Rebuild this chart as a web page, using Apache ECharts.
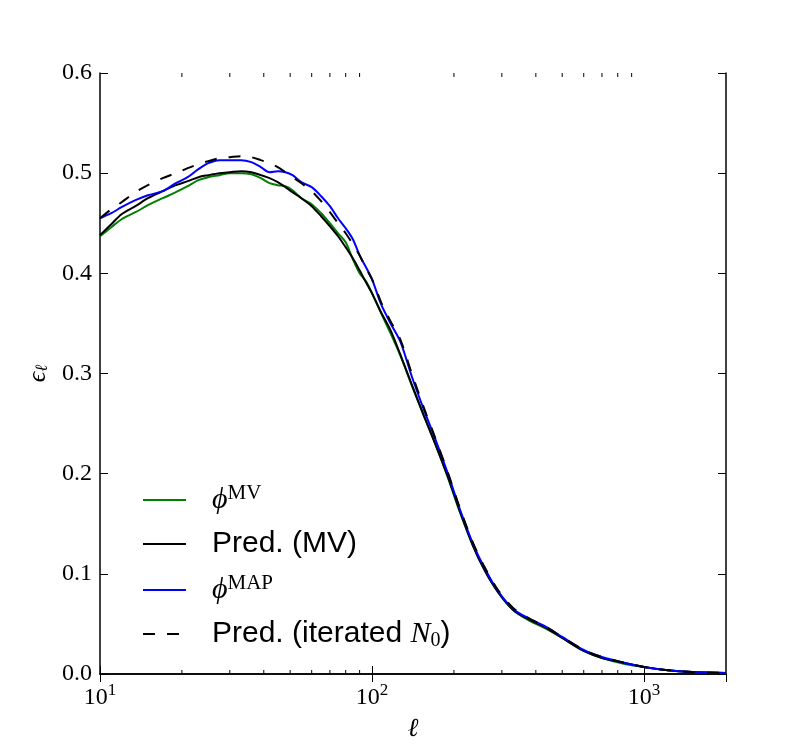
<!DOCTYPE html>
<html><head><meta charset="utf-8">
<script src="https://cdn.jsdelivr.net/npm/echarts@6/dist/echarts.min.js"></script>
<style>html,body{margin:0;padding:0;background:#fff}#c{width:807px;height:750px}</style>
</head><body><div id="c"></div>
<script>
// multipole ell
const ell = [10, 11, 12, 13.5, 15, 17, 19, 21, 23, 25, 27.5, 30, 33, 36, 39, 42, 45, 48, 51, 55, 60, 65, 70, 75, 80, 85, 90, 95, 100, 108, 117, 127, 140, 155, 170, 190, 210, 235, 260, 290, 330, 380, 430, 500, 600, 700, 850, 1000, 1200, 1500, 2000];
// phi^MV (green)
const phiMV = [0.437, 0.446, 0.454, 0.461, 0.468, 0.475, 0.481, 0.487, 0.493, 0.496, 0.498, 0.500, 0.500, 0.499, 0.495, 0.490, 0.488, 0.487, 0.483, 0.475, 0.469, 0.460, 0.450, 0.440, 0.431, 0.414, 0.400, 0.392, 0.380, 0.360, 0.340, 0.318, 0.288, 0.258, 0.231, 0.196, 0.162, 0.128, 0.103, 0.082, 0.064, 0.053, 0.046, 0.036, 0.023, 0.016, 0.010, 0.007, 0.004, 0.002, 0.001];
// Pred. (MV) (black solid)
const predMV = [0.438, 0.449, 0.459, 0.467, 0.475, 0.482, 0.488, 0.492, 0.496, 0.498, 0.500, 0.501, 0.502, 0.501, 0.498, 0.495, 0.491, 0.486, 0.481, 0.475, 0.467, 0.457, 0.447, 0.437, 0.426, 0.415, 0.403, 0.391, 0.380, 0.361, 0.343, 0.319, 0.289, 0.258, 0.231, 0.197, 0.163, 0.128, 0.103, 0.082, 0.064, 0.054, 0.047, 0.036, 0.023, 0.016, 0.011, 0.007, 0.004, 0.002, 0.001];
// phi^MAP (blue)
const phiMAP = [0.455, 0.460, 0.466, 0.473, 0.478, 0.482, 0.490, 0.496, 0.504, 0.510, 0.513, 0.513, 0.513, 0.511, 0.506, 0.501, 0.502, 0.501, 0.498, 0.491, 0.486, 0.477, 0.467, 0.455, 0.445, 0.434, 0.418, 0.406, 0.394, 0.369, 0.350, 0.332, 0.297, 0.264, 0.236, 0.200, 0.165, 0.130, 0.105, 0.083, 0.065, 0.055, 0.048, 0.037, 0.024, 0.017, 0.011, 0.007, 0.004, 0.002, 0.001];
// Pred. (iterated N0) (black dashed)
const predIter = [0.455, 0.464, 0.471, 0.481, 0.488, 0.495, 0.500, 0.505, 0.509, 0.512, 0.515, 0.516, 0.517, 0.516, 0.513, 0.510, 0.506, 0.501, 0.496, 0.490, 0.482, 0.472, 0.461, 0.450, 0.440, 0.429, 0.418, 0.405, 0.394, 0.371, 0.352, 0.334, 0.300, 0.266, 0.237, 0.201, 0.166, 0.131, 0.106, 0.084, 0.066, 0.055, 0.048, 0.037, 0.024, 0.017, 0.011, 0.007, 0.004, 0.002, 0.001];
const xMinorTicks = [20, 30, 40, 50, 60, 70, 80, 90, 200, 300, 400, 500, 600, 700, 800, 900];
const yTickLabels = ['0.0', '0.1', '0.2', '0.3', '0.4', '0.5', '0.6'];

const SERIF = '"Liberation Serif", "DejaVu Serif", serif';
const SANS = '"Liberation Sans", Arial, sans-serif';
const pair = arr => ell.map((l, i) => [l, arr[i]]);

const chart = echarts.init(document.getElementById('c'), null, {renderer: 'canvas'});

const xBase = {
  type: 'log', logBase: 10, min: 10, max: 2000,
  axisLine: {show: true, lineStyle: {color: '#000', width: 1.5}},
  axisTick: {show: true, inside: true, length: 8, lineStyle: {color: '#000', width: 1}},
  splitLine: {show: false}, minorTick: {show: false}
};
const yBase = {
  type: 'value', min: 0, max: 0.6, interval: 0.1,
  axisLine: {show: true, lineStyle: {color: '#000', width: 1.5}},
  axisTick: {show: true, inside: true, length: 8, lineStyle: {color: '#000', width: 1}},
  splitLine: {show: false}
};

const legendNames = {
  phiMV: '{sp|}{phi|ϕ}{sup|MV}',
  predMV: '{sp|}{t|Pred. (MV)}',
  phiMAP: '{sp|}{phi|ϕ}{sup|MAP}',
  predIter: '{sp|}{t|Pred. (iterated }{n|N}{sub|0}{t|)}'
};

chart.setOption({
  animation: false,
  backgroundColor: '#fff',
  grid: {left: 100, right: 81, top: 73, bottom: 76, containLabel: false},
  xAxis: [
    Object.assign({}, xBase, {
      position: 'bottom',
      axisLabel: {
        show: true, margin: 8, showMaxLabel: false, color: '#000',
        formatter: v => '{b|10}{s|' + Math.round(Math.log10(v)) + '}',
        rich: {
          b: {fontFamily: SERIF, fontSize: 24, color: '#000', lineHeight: 28, verticalAlign: 'bottom'},
          s: {fontFamily: SERIF, fontSize: 17, color: '#000', lineHeight: 17, verticalAlign: 'top'}
        }
      },
      name: 'ℓ', nameLocation: 'middle', nameGap: 42,
      nameTextStyle: {fontFamily: SERIF, fontStyle: 'italic', fontSize: 26, color: '#000'}
    }),
    Object.assign({}, xBase, {position: 'top', axisLabel: {show: false}})
  ],
  yAxis: [
    Object.assign({}, yBase, {
      position: 'left',
      axisLabel: {
        show: true, margin: 8, color: '#000', fontFamily: SERIF, fontSize: 24,
        formatter: v => yTickLabels[Math.round(v * 10)]
      },
      name: '{e|ϵ}{s|ℓ}', nameLocation: 'middle', nameGap: 49, nameRotate: 90,
      nameTextStyle: {
        rich: {
          e: {fontFamily: SERIF, fontStyle: 'italic', fontSize: 26, color: '#000', lineHeight: 26, verticalAlign: 'top'},
          s: {fontFamily: SERIF, fontStyle: 'italic', fontSize: 17, color: '#000', lineHeight: 17, verticalAlign: 'bottom'}
        }
      }
    }),
    Object.assign({}, yBase, {position: 'right', axisLabel: {show: false}})
  ],
  legend: {
    show: true, orient: 'vertical', left: 137, top: 478,
    itemWidth: 43, itemHeight: 12, itemGap: 14,
    data: ['phiMV', 'predMV', 'phiMAP', 'predIter'],
    formatter: n => legendNames[n],
    selectedMode: false,
    itemStyle: {opacity: 0, color: 'rgba(0,0,0,0)', borderWidth: 0},
    textStyle: {
      color: '#000',
      rich: {
        sp: {width: 21, height: 34},
        t: {fontFamily: SANS, fontSize: 30, color: '#000', lineHeight: 34},
        phi: {fontFamily: SERIF, fontStyle: 'italic', fontSize: 30, color: '#000', lineHeight: 34},
        sup: {fontFamily: SERIF, fontSize: 21, color: '#000', lineHeight: 21, verticalAlign: 'top'},
        n: {fontFamily: SERIF, fontStyle: 'italic', fontSize: 30, color: '#000', lineHeight: 34},
        sub: {fontFamily: SERIF, fontSize: 20, color: '#000', lineHeight: 20, verticalAlign: 'bottom'}
      }
    }
  },
  series: [
    {name: 'phiMV', type: 'line', data: pair(phiMV), showSymbol: false, symbol: 'none', smooth: 0.3,
     lineStyle: {color: '#008000', width: 2}, itemStyle: {color: '#008000'}, z: 2},
    {name: 'predMV', type: 'line', data: pair(predMV), showSymbol: false, symbol: 'none', smooth: 0.3,
     lineStyle: {color: '#000000', width: 2}, itemStyle: {color: '#000000'}, z: 3},
    {name: 'phiMAP', type: 'line', data: pair(phiMAP), showSymbol: false, symbol: 'none', smooth: 0.3,
     lineStyle: {color: '#0000ff', width: 2}, itemStyle: {color: '#0000ff'}, z: 4},
    {name: 'predIter', type: 'line', data: pair(predIter), showSymbol: false, symbol: 'none', smooth: 0.3,
     lineStyle: {color: '#000000', width: 2, type: [12, 12]}, itemStyle: {color: '#000000'}, z: 5},
    {name: 'minorTicks', type: 'custom', silent: true, clip: false, z: 6,
     data: xMinorTicks.map(v => [v, 0]),
     renderItem: (params, api) => {
       const v = api.value(0);
       const pb = api.coord([v, 0]);
       const pt = api.coord([v, 0.6]);
       return {type: 'group', children: [
         {type: 'line', shape: {x1: pb[0], y1: pb[1], x2: pb[0], y2: pb[1] - 4}, style: {stroke: '#000', lineWidth: 1}},
         {type: 'line', shape: {x1: pt[0], y1: pt[1], x2: pt[0], y2: pt[1] + 4}, style: {stroke: '#000', lineWidth: 1}}
       ]};
     }}
  ]
});
</script></body></html>
